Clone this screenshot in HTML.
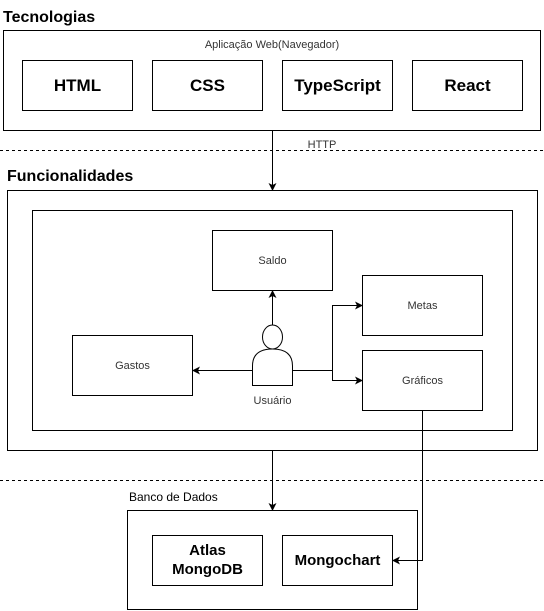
<!DOCTYPE html>
<html><head><meta charset="utf-8"><style>
html,body{margin:0;padding:0;background:#fff;}
svg{display:block;font-family:"Liberation Sans",Arial,sans-serif;}
</style></head><body>
<svg width="544" height="611" viewBox="0 0 544 611" xmlns="http://www.w3.org/2000/svg">
<defs><marker id="a" markerWidth="8" markerHeight="8" refX="7" refY="4" orient="auto" markerUnits="userSpaceOnUse"><path d="M0,0 L8,4 L0,8 L2,4 Z" fill="#000"/></marker></defs>
<g fill="none" stroke="#000" stroke-width="1">
<rect x="3.5" y="30.5" width="537" height="100"/>
<rect x="22.5" y="60.5" width="110" height="50"/>
<rect x="152.5" y="60.5" width="110" height="50"/>
<rect x="282.5" y="60.5" width="110" height="50"/>
<rect x="412.5" y="60.5" width="110" height="50"/>
<line x1="0" y1="150.5" x2="544" y2="150.5" stroke-dasharray="3,3"/>
<line x1="0" y1="480.5" x2="544" y2="480.5" stroke-dasharray="3,3"/>
<line x1="272.5" y1="130" x2="272.5" y2="190" marker-end="url(#a)"/>
<rect x="7.5" y="190.5" width="530" height="260"/>
<rect x="32.5" y="210.5" width="480" height="220"/>
<rect x="212.5" y="230.5" width="120" height="60"/>
<rect x="362.5" y="275.5" width="120" height="60"/>
<rect x="362.5" y="350.5" width="120" height="60"/>
<rect x="72.5" y="335.5" width="120" height="60"/>
<ellipse cx="272.5" cy="337" rx="10" ry="12"/>
<path d="M252.5,385.5 V366 Q252.5,349 272.5,349 Q292.5,349 292.5,366 V385.5 Z"/>
<line x1="272.5" y1="325" x2="272.5" y2="291" marker-end="url(#a)"/>
<line x1="252.5" y1="370.5" x2="193" y2="370.5" marker-end="url(#a)"/>
<polyline points="292.5,370.5 332.5,370.5 332.5,305.5 362,305.5" marker-end="url(#a)"/>
<polyline points="332.5,370.5 332.5,380.5 362,380.5" marker-end="url(#a)"/>
<line x1="272.5" y1="451" x2="272.5" y2="510" marker-end="url(#a)"/>
<polyline points="422.5,411 422.5,560.5 393,560.5" marker-end="url(#a)"/>
<rect x="127.5" y="510.5" width="290" height="99"/>
<rect x="152.5" y="535.5" width="110" height="50"/>
<rect x="282.5" y="535.5" width="110" height="50"/>
</g>
<g fill="#000">
<text x="3" y="22" font-size="16" font-weight="bold">Tecnologias</text>
<text x="7" y="181" font-size="16" font-weight="bold">Funcionalidades</text>
<text x="272" y="48" font-size="11" text-anchor="middle" fill="#333">Aplicação Web(Navegador)</text>
<g font-size="17" font-weight="bold" text-anchor="middle">
<text x="77.5" y="91">HTML</text>
<text x="207.5" y="91">CSS</text>
<text x="337.5" y="91">TypeScript</text>
<text x="467.5" y="91">React</text>
</g>
<text x="322" y="148" font-size="11" text-anchor="middle" fill="#333">HTTP</text>
<g font-size="11" text-anchor="middle" fill="#333">
<text x="272.5" y="264">Saldo</text>
<text x="422.5" y="309">Metas</text>
<text x="422.5" y="384">Gráficos</text>
<text x="132.5" y="369">Gastos</text>
<text x="272.5" y="404">Usuário</text>
</g>
<text x="129" y="501" font-size="12">Banco de Dados</text>
<g font-size="15" font-weight="bold" text-anchor="middle">
<text x="207.5" y="555">Atlas</text>
<text x="207.5" y="574">MongoDB</text>
<text x="337.5" y="565">Mongochart</text>
</g>
</g>
</svg>
</body></html>
